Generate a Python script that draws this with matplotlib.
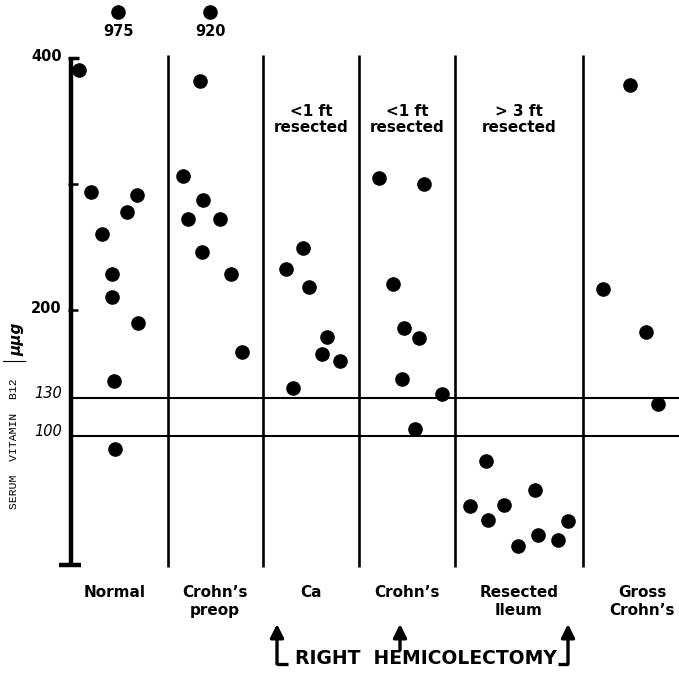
import matplotlib
matplotlib.use("Agg")
import matplotlib.pyplot as plt

# ---------------- data ----------------
categories = ["Normal", "Crohn’s\npreop", "Ca", "Crohn’s", "Resected\nIleum", "Gross\nCrohn’s"]
top_notes = ["", "", "<1 ft\nresected", "<1 ft\nresected", "> 3 ft\nresected", ""]
# group boundaries in x units (the "Resected Ileum" column is wider)
boundaries = [0.0, 1.007, 1.997, 3.0, 4.0, 5.333, 6.333]

normal_x = [0.086, 0.211, 0.691, 0.586, 0.320, 0.424, 0.424, 0.701, 0.451, 0.458]
normal_y = [390, 293, 291, 277, 260, 228, 210, 189, 143, 89]
preop_x = [1.344, 1.167, 1.372, 1.222, 1.552, 1.361, 1.667, 1.784]
preop_y = [381, 306, 287, 272, 272, 246, 228, 166]
ca_x = [2.414, 2.236, 2.482, 2.667, 2.618, 2.802, 2.313]
ca_y = [249, 232, 218, 178, 165, 159, 138]
crohn_x = [3.211, 3.680, 3.357, 3.466, 3.628, 3.448, 3.861, 3.580]
crohn_y = [304, 300, 220, 185, 177, 145, 133, 105]
resect_x = [4.323, 4.836, 4.159, 4.507, 4.341, 5.174, 4.865, 5.073, 4.653]
resect_y = [80, 57, 44, 45, 33, 32, 21, 17, 12]
gross_x = [5.826, 5.539, 5.986, 6.115]
gross_y = [378, 216, 182, 125]

# off-scale values (drawn above the axis break)
outlier_x = [0.493, 1.448]
outlier_vals = [975, 920]

ref_lines = [130, 100]
tick_labels = {400: "400", 200: "200", 130: "130", 100: "100"}
minor_ticks = [400, 300, 200]

# label anchor offsets within each column (layout)
label_shift = [-0.05, 0.0, 0.0, 0.0, 0.0, 0.12]

# ---------------- figure ----------------
W, H = 679, 674
fig = plt.figure(figsize=(W / 100, H / 100), dpi=100)
ax = fig.add_axes([0, 0, 1, 1])
x0px, pxu = 71, 96.0
y0px, pyu = 561.5, 1.26
ax.set_xlim(-x0px / pxu, (W - x0px) / pxu)
ax.set_ylim((y0px - H) / pyu, y0px / pyu)
ax.axis("off")


def px2x(p):
    return (p - x0px) / pxu


def py2y(p):
    return (y0px - p) / pyu


FONT = "DejaVu Sans"
K = "black"

# left axis
ax.plot([0, 0], [-3, 400], color=K, lw=3.2, solid_capstyle="butt")
ax.plot([-0.03, 0.08], [400, 400], color=K, lw=2.5, solid_capstyle="butt")
ax.plot([-0.12, 0.10], [-3, -3], color=K, lw=3.2, solid_capstyle="butt")
for t in minor_ticks[1:]:
    ax.plot([-0.03, 0.075], [t, t], color=K, lw=1.8, solid_capstyle="butt")

# separators
for b in boundaries[1:-1]:
    ax.plot([b, b], [-4.5, 402], color=K, lw=1.9, solid_capstyle="butt")

# reference lines
for r in ref_lines:
    ax.plot([0, boundaries[-1]], [r, r], color=K, lw=1.5)

# points
xs = [normal_x, preop_x, ca_x, crohn_x, resect_x, gross_x]
ys = [normal_y, preop_y, ca_y, crohn_y, resect_y, gross_y]
for gx, gy in zip(xs, ys):
    ax.plot(gx, gy, "o", color=K, ms=9.5, mec=K, ls="none")

# off-scale points
y_break_dot = py2y(12)
y_break_lbl = py2y(31)
for ox, ov in zip(outlier_x, outlier_vals):
    ax.plot([ox], [y_break_dot], "o", color=K, ms=9.5, ls="none", clip_on=False)
    ax.text(ox, y_break_lbl, str(ov), ha="center", va="center",
            fontsize=10.5, fontweight="bold", family=FONT)

# y tick labels
for v, s in tick_labels.items():
    if v in (400, 200):
        ax.text(-0.095, v + 1, s, ha="right", va="center", fontsize=10.5,
                fontweight="bold", family=FONT)
    else:
        ax.text(-0.09, v + 3, s, ha="right", va="center", fontsize=10.5,
                style="italic", family=FONT)

# y axis title
ax.text(px2x(14), py2y(444), "SERUM  VITAMIN  B12", rotation=90, ha="center",
        va="center", fontsize=8.2, family="Liberation Mono")
ax.plot([px2x(3), px2x(25)], [py2y(361), py2y(361)], color=K, lw=0.8)
ax.text(px2x(17), py2y(339), "\u03bc\u03bcg", rotation=90, ha="center", va="center",
        fontsize=11, fontweight="bold", style="italic", family=FONT)

# category labels and top notes
for i, (c, n) in enumerate(zip(categories, top_notes)):
    cx = (boundaries[i] + boundaries[i + 1]) / 2
    ax.text(cx + label_shift[i], py2y(585), c, ha="center", va="top", fontsize=11,
            fontweight="bold", family=FONT, linespacing=1.25)
    if n:
        ax.text(cx, py2y(104), n, ha="center", va="top", fontsize=11,
                fontweight="bold", family=FONT, linespacing=1.12)

# right hemicolectomy annotation
arrow_kw = dict(arrowstyle="-|>,head_length=0.8,head_width=0.4", color=K, lw=2.4,
                shrinkA=0, shrinkB=0)
for axp, bot, foot in [(277, 664, 288), (400, 650, None), (568, 664, 558)]:
    ax.annotate("", xy=(px2x(axp), py2y(624)), xytext=(px2x(axp), py2y(bot)),
                arrowprops=arrow_kw)
    if foot is not None:
        ax.plot([px2x(axp), px2x(foot)], [py2y(bot), py2y(bot)], color=K, lw=2.4,
                solid_capstyle="butt")
ax.text(px2x(426), py2y(658), "RIGHT  HEMICOLECTOMY", ha="center", va="center",
        fontsize=13.5, fontweight="bold", family=FONT)

fig.savefig("out.png", dpi=100)
